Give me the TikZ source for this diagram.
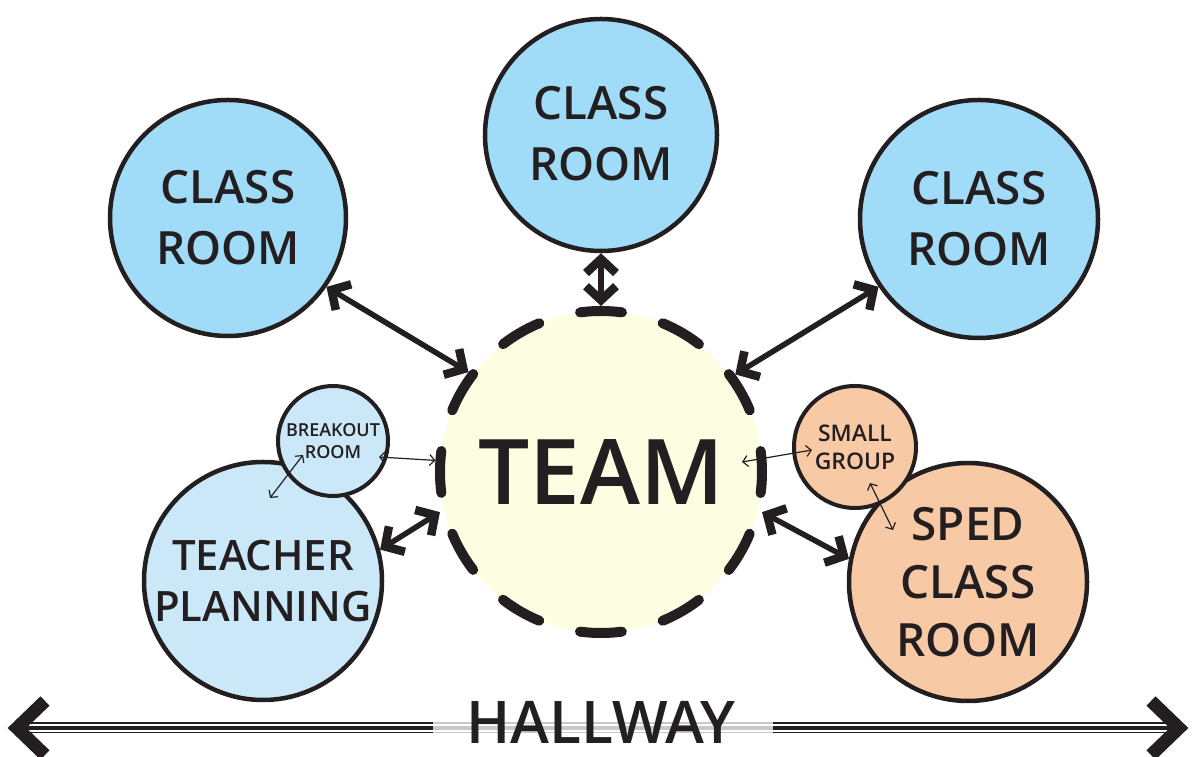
\documentclass[tikz,border=0pt]{standalone}
\usepackage{fontspec}
\setmainfont{Open Sans}[BoldFont={Open Sans Semibold}]
\usetikzlibrary{arrows.meta,calc}
\definecolor{classblue}{HTML}{A0DBF7}
\definecolor{lightblue}{HTML}{CBE8F8}
\definecolor{teamyellow}{HTML}{FDFDE1}
\definecolor{peach}{HTML}{F8C9A5}
\definecolor{ink}{HTML}{231F20}
\definecolor{hallgray}{HTML}{C8C8C8}
\tikzset{
  room/.style={circle, draw=ink, line width=4.5bp, text=ink, align=center, inner sep=0pt, font=\bfseries\fontsize{46}{61}\selectfont},
  smallroom/.style={circle, draw=ink, line width=4bp, text=ink, align=center, inner sep=0pt},
  teambox/.style={circle, draw=ink, fill=teamyellow, line width=10bp, line cap=round, dash pattern=on 42bp off 42.3bp, dash phase=21bp, minimum size=322bp, inner sep=0pt, text=ink, font=\bfseries\fontsize{91}{91}\selectfont},
  bigarrow/.style={draw=ink, line width=5.5bp, {Straight Barb[length=14bp,width=30bp,line width=8.5bp,sharp]}-{Straight Barb[length=14bp,width=30bp,line width=8.5bp,sharp]}},
  thinarrow/.style={draw=ink, line width=1.2bp, {Straight Barb[length=5bp,width=11bp,line width=1.2bp]}-{Straight Barb[length=5bp,width=11bp,line width=1.2bp]}},
  hallblack/.style={draw=ink},
  hallgrey/.style={draw=hallgray},
  chev/.style={draw=ink, line width=13bp, miter limit=10}
}
\begin{document}
\begin{tikzpicture}[x=1bp,y=1bp]
\useasboundingbox (0,0) rectangle (1196,757);
% class rooms
\node[room, fill=classblue, minimum size=236bp] (cl1) at (228,539) {CLASS\\ROOM};
\node[room, fill=classblue, minimum size=232bp] (cl2) at (601,622) {\raisebox{3bp}{CLASS}\\\raisebox{3bp}{ROOM}};
\node[room, fill=classblue, minimum size=238bp] (cl3) at (979,538) {CLASS\\ROOM};
% team
\node[teambox] (team) at (601,285) {\raisebox{-7bp}{TEAM}};
% teacher planning and breakout
\node[room, fill=lightblue, minimum size=238bp, font=\bfseries\fontsize{42}{52}\selectfont] (tp) at (263,176) {TEACHER\\PLANNING};
\node[smallroom, fill=lightblue, minimum size=110bp, font=\bfseries\fontsize{18}{22}\selectfont] (bo) at (333,316) {BREAKOUT\\ROOM};
% sped and small group
\node[room, fill=peach, minimum size=238bp, font=\bfseries\fontsize{46}{58}\selectfont] (sped) at (968,175) {SPED\\CLASS\\ROOM};
\node[smallroom, fill=peach, minimum size=122bp, font=\bfseries\fontsize{23}{28}\selectfont] (sg) at (855,310) {SMALL\\GROUP};
% thick arrows
\draw[bigarrow] (cl1.-35) -- (team.143.5);
\draw[bigarrow] (cl2.south) -- (team.north);
\draw[bigarrow] (cl3.-146) -- (team.36.7);
\draw[bigarrow] (tp.15) -- (team.194);
\draw[bigarrow] (team.-14.2) -- (sped.169.4);
% thin arrows
\draw[thinarrow] ([shift={(46,-16)}]bo.center) -- (team.176.5);
\draw[thinarrow] ([shift={(-30,-14)}]bo.center) -- ([shift={(7,83)}]tp.center);
\draw[thinarrow] ([shift={(141,10)}]team.center) -- ([shift={(-43,-3)}]sg.center);
\draw[thinarrow] ([shift={(15,-36)}]sg.center) -- ([shift={(-75,52)}]sped.center);
% hallway
\coordinate (hl) at (22,29);
\coordinate (hr) at (1174,29);
\coordinate (gl) at (433,29);
\coordinate (gr) at (773,29);
\draw[hallblack, line width=1.5bp] ([yshift=5bp]hl) -- ([yshift=5bp]gl);
\draw[hallblack, line width=3.3bp] (hl) -- (gl);
\draw[hallblack, line width=1.5bp] ([yshift=-4.5bp]hl) -- ([yshift=-4.5bp]gl);
\draw[hallblack, line width=1.5bp] ([yshift=5bp]gr) -- ([yshift=5bp]hr);
\draw[hallblack, line width=3.3bp] (gr) -- (hr);
\draw[hallblack, line width=1.5bp] ([yshift=-4.5bp]gr) -- ([yshift=-4.5bp]hr);
\draw[hallgrey, line width=1.5bp] ([yshift=5bp]gl) -- ([yshift=5bp]gr);
\draw[hallgrey, line width=3.3bp] (gl) -- (gr);
\draw[hallgrey, line width=1.5bp] ([yshift=-4.5bp]gl) -- ([yshift=-4.5bp]gr);
\draw[chev] (45,56) -- (17,29) -- (45,2);
\draw[chev] (1151,56) -- (1179,29) -- (1151,2);
\node[text=ink, anchor=base, inner sep=0pt, font=\bfseries\fontsize{59}{59}\selectfont] (hall) at (601,13) {HALLWAY};
\end{tikzpicture}
\end{document}
